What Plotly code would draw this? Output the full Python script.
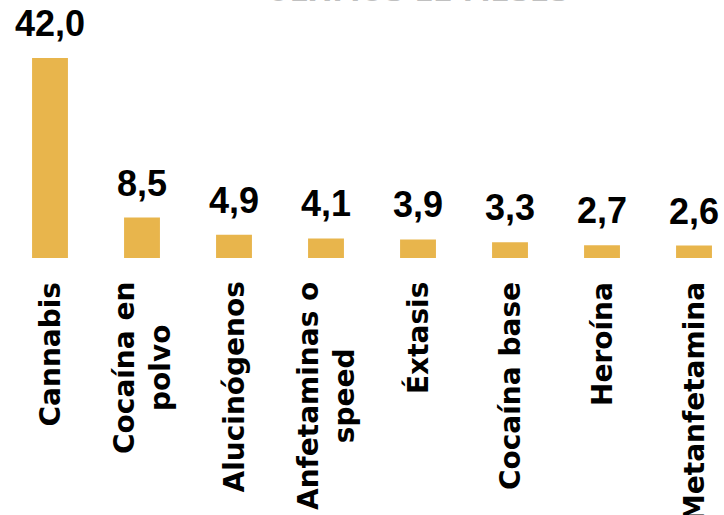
import plotly.graph_objects as go

categories = ["Cannabis", "Cocaína en<br>polvo", "Alucinógenos", "Anfetaminas o<br>speed",
              "Éxtasis", "Cocaína base", "Heroína", "Metanfetamina"]
values = [42.0, 8.5, 4.9, 4.1, 3.9, 3.3, 2.7, 2.6]
value_labels = ["42,0", "8,5", "4,9", "4,1", "3,9", "3,3", "2,7", "2,6"]
title_text = "ÚLTIMOS 12 MESES"

bar_color = "#E8B54C"

fig = go.Figure()
fig.add_trace(go.Bar(
    x=list(range(len(categories))), y=values,
    marker=dict(color=bar_color, line=dict(width=0)),
    width=0.39, hoverinfo="skip",
))

annotations = []
for i, (v, t) in enumerate(zip(values, value_labels)):
    annotations.append(dict(
        x=i, y=v, xref="x", yref="y", text="<b>" + t + "</b>", showarrow=False,
        yanchor="bottom", yshift=12,
        font=dict(family="Liberation Sans", size=36, color="#000000"),
    ))
for i, c in enumerate(categories):
    annotations.append(dict(
        x=i, y=0, xref="x", yref="paper",
        text="<b>" + c.replace("<br>", "</b><br><b>") + "</b>",
        showarrow=False, textangle=-90, align="center",
        xanchor="center", yanchor="top", yshift=-22,
        font=dict(family="DejaVu Sans", size=28, color="#000000"),
    ))
annotations.append(dict(
    x=418 / 724.0, y=1, xref="paper", yref="paper", text="<b>" + title_text + "</b>",
    showarrow=False, yanchor="bottom", yshift=-10,
    font=dict(family="DejaVu Sans", size=28, color="#C0C0C0"),
))

fig.update_layout(
    width=724, height=515,
    margin=dict(l=0, r=0, t=0, b=257, pad=0),
    paper_bgcolor="white", plot_bgcolor="white",
    showlegend=False,
    font=dict(family="DejaVu Sans"),
    xaxis=dict(
        range=[-0.5435, 7.326],
        showticklabels=False, showgrid=False, zeroline=False, showline=False,
        ticks="", fixedrange=True,
    ),
    yaxis=dict(range=[0, 54.2], visible=False, showgrid=False, zeroline=False, fixedrange=True),
    annotations=annotations,
)

fig.write_html("out.html", config={"displayModeBar": False},
               post_script="document.body.style.margin='0';document.body.style.overflow='hidden';")
